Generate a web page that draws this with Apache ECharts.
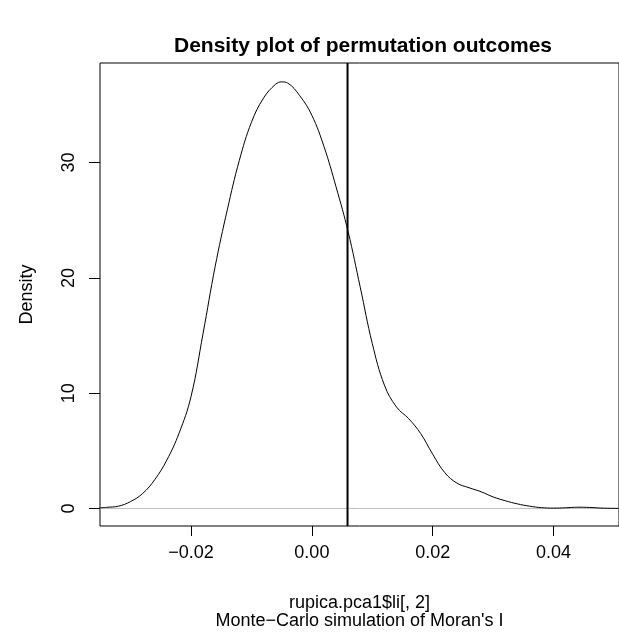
<!DOCTYPE html>
<html>
<head>
<meta charset="utf-8">
<script src="https://cdn.jsdelivr.net/npm/echarts@6/dist/echarts.min.js"></script>
<style>
  html, body { margin: 0; padding: 0; background: #fff; }
  #chart { width: 619px; height: 637px; }
</style>
</head>
<body>
<div id="chart"></div>
<script>
// density estimate
const xs = [-0.0351, -0.034, -0.032, -0.030, -0.028, -0.026, -0.024, -0.022, -0.020, -0.018,
  -0.016, -0.014, -0.012, -0.010, -0.008, -0.006, -0.005, -0.004, -0.002, 0.000,
  0.002, 0.004, 0.006, 0.008, 0.010, 0.012, 0.014, 0.016, 0.018, 0.020,
  0.022, 0.024, 0.026, 0.028, 0.030, 0.032, 0.034, 0.036, 0.038, 0.040,
  0.042, 0.044, 0.046, 0.048, 0.0508];
const ys = [0.05, 0.1, 0.2, 0.6, 1.3, 2.5, 4.2, 6.5, 9.7, 15.2,
  21.0, 25.9, 30.2, 33.5, 35.6, 36.8, 37.0, 36.9, 35.8, 34.1,
  31.4, 27.9, 24.0, 19.2, 14.3, 10.7, 8.8, 7.8, 6.5, 4.7,
  3.1, 2.2, 1.8, 1.45, 1.0, 0.67, 0.4, 0.2, 0.07, 0.03,
  0.06, 0.11, 0.09, 0.03, 0.01];
const observed = 0.0059;
const xTicks = [-0.02, 0, 0.02, 0.04];
const yTicks = [0, 10, 20, 30];
const xRange = [-0.03506, 0.05082];
const yRange = [-1.52, 38.64];

const font = 'Liberation Sans, Arial, Helvetica, sans-serif';
const chart = echarts.init(document.getElementById('chart'));

const option = {
  animation: false,
  title: {
    text: 'Density plot of permutation outcomes',
    left: 358,
    textAlign: 'center',
    top: 31,
    textStyle: { fontFamily: font, fontSize: 21, fontWeight: 'bold', color: '#000' }
  },
  grid: {
    left: 100, top: 63, right: -2, bottom: 111,
    show: true, borderColor: '#000', borderWidth: 1
  },
  xAxis: {
    type: 'value',
    min: xRange[0], max: xRange[1],
    name: "rupica.pca1$li[, 2]\nMonte\u2212Carlo simulation of Moran's I",
    nameLocation: 'middle',
    nameGap: 68,
    nameTextStyle: { fontFamily: font, fontSize: 18, color: '#000', lineHeight: 18 },
    axisLine: { show: false, onZero: false },
    axisTick: { show: true, inside: false, length: 10, customValues: xTicks, lineStyle: { color: '#000' } },
    axisLabel: {
      customValues: xTicks, margin: 18,
      fontFamily: font, fontSize: 18, color: '#000',
      formatter: v => v.toFixed(2).replace('-', '\u2212')
    },
    splitLine: { show: false }
  },
  yAxis: {
    type: 'value',
    min: yRange[0], max: yRange[1],
    name: 'Density',
    nameLocation: 'middle',
    nameGap: 64,
    nameTextStyle: { fontFamily: font, fontSize: 18, color: '#000' },
    axisLine: { show: false, onZero: false },
    axisTick: { show: true, inside: false, length: 11, customValues: yTicks, lineStyle: { color: '#000' } },
    axisLabel: {
      customValues: yTicks, rotate: 90, margin: 22,
      fontFamily: font, fontSize: 18, color: '#000'
    },
    splitLine: { show: false }
  },
  series: [
    {
      // zero line
      type: 'line',
      data: [[xRange[0], 0], [xRange[1], 0]],
      showSymbol: false,
      silent: true,
      lineStyle: { color: '#bebebe', width: 1 },
      z: 1
    },
    {
      type: 'line',
      data: xs.map((x, i) => [x, ys[i]]),
      smooth: 0.4,
      showSymbol: false,
      lineStyle: { color: '#000', width: 1 },
      z: 2
    },
    {
      // observed statistic
      type: 'line',
      data: [[observed, yRange[0]], [observed, yRange[1]]],
      showSymbol: false,
      silent: true,
      lineStyle: { color: '#000', width: 2 },
      z: 3
    }
  ]
};

chart.setOption(option);
</script>
</body>
</html>
